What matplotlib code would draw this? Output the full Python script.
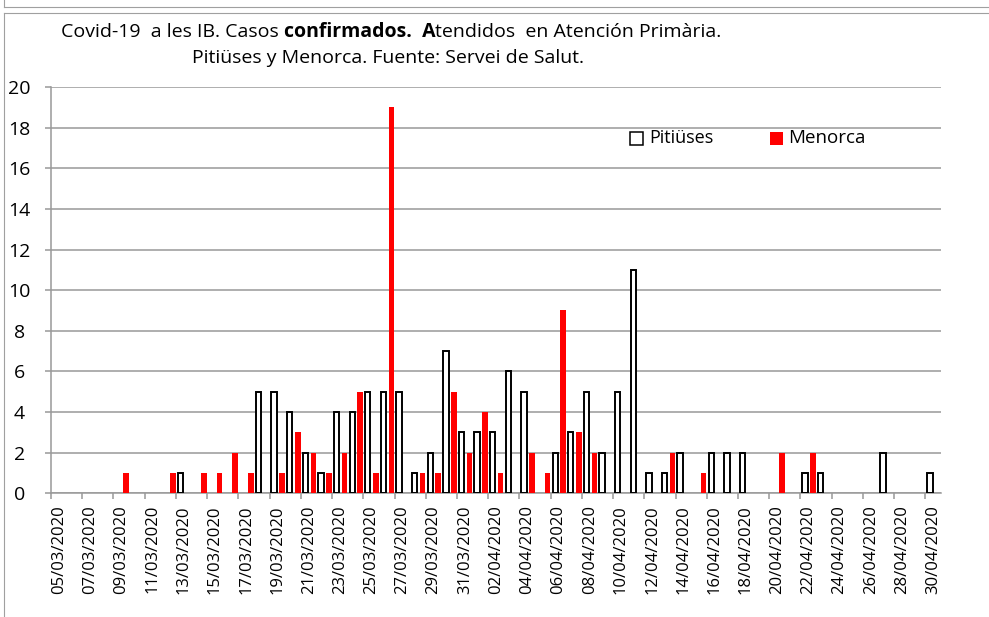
import matplotlib
matplotlib.use('Agg')
import matplotlib.pyplot as plt
from matplotlib.patches import Rectangle
from matplotlib.lines import Line2D
import numpy as np
import pandas as pd

plt.rcParams['font.family'] = ['Open Sans', 'DejaVu Sans']

# daily categories 05/03/2020 .. 30/04/2020
dates = list(pd.date_range('2020-03-05', '2020-04-30').strftime('%d/%m/%Y'))

pitiuses = [0, 0, 0, 0, 0, 0, 0, 0, 1, 0,
            0, 0, 0, 5, 5, 4, 2, 1, 4, 4,
            5, 5, 5, 1, 2, 7, 3, 3, 3, 6,
            5, 0, 2, 3, 5, 2, 5, 11, 1, 1,
            2, 0, 2, 2, 2, 0, 0, 0, 1, 1,
            0, 0, 0, 2, 0, 0, 1]
menorca = [0, 0, 0, 0, 1, 0, 0, 1, 0, 1,
           1, 2, 1, 0, 1, 3, 2, 1, 2, 5,
           1, 19, 0, 1, 1, 5, 2, 4, 1, 0,
           2, 1, 9, 3, 2, 0, 0, 0, 0, 2,
           0, 1, 0, 0, 0, 0, 2, 0, 2, 0,
           0, 0, 0, 0, 0, 0, 0]

title_1 = [("Covid-19  a les IB. Casos", 'normal', 1),
           ("confirmados.  A", 'bold', 0),
           ("tendidos  en Atención Primària.", 'normal', 0)]
title_2 = "Pitiüses y Menorca. Fuente: Servei de Salut."

W, H = 989, 617
GRID = '#999999'


def fx(x):
    return x / W


def fy(y):
    return 1 - y / H


fig = plt.figure(figsize=(W / 100, H / 100), dpi=100)

# outer frames
frame = dict(color='#a0a0a0', linewidth=0.8, transform=fig.transFigure)
fig.add_artist(Line2D([fx(4), 1], [fy(6.7), fy(6.7)], **frame))
fig.add_artist(Line2D([fx(4), fx(4)], [1, fy(6.7)], **frame))
fig.add_artist(Line2D([fx(4), 1], [fy(12.5), fy(12.5)], **frame))
fig.add_artist(Line2D([fx(4), fx(4)], [fy(12.5), 0], **frame))

ax = fig.add_axes([fx(51), fy(493.3), (941 - 51) / W, (493.3 - 87) / H])

x = np.arange(len(dates))
p = np.array(pitiuses)
m = np.array(menorca)
ax.bar(x[p > 0] + 0.29, p[p > 0], width=0.34, color='white',
       edgecolor='black', linewidth=1.4, zorder=3)
ax.bar(x[m > 0] + 0.80, m[m > 0], width=0.36, color='#ff0000',
       linewidth=0, zorder=3)

ax.set_xlim(0, len(dates))
ax.set_ylim(0, 20)
ax.set_yticks(range(0, 21, 2))
ax.yaxis.grid(True, color=GRID, linewidth=1.1)
ax.set_axisbelow(True)
for s in ['top', 'right']:
    ax.spines[s].set_visible(False)
for s in ['left', 'bottom']:
    ax.spines[s].set_color(GRID)
    ax.spines[s].set_linewidth(1.1)

ax.set_xticks(np.arange(0, len(dates), 2))
ax.set_xticklabels([])
ax.set_xticks(np.arange(0, len(dates), 2) + 0.5, minor=True)
ax.set_xticklabels(dates[::2], minor=True, rotation=90, fontsize=12)
ax.tick_params(axis='x', which='major', length=4.3, color=GRID, width=1.1)
ax.tick_params(axis='x', which='minor', length=0, pad=8.5)
ax.tick_params(axis='y', length=4.3, color=GRID, width=1.1, pad=18.4, labelsize=14)
plt.setp(ax.get_yticklabels(), ha='center')

# title, with bold pieces
renderer = fig.canvas.get_renderer()


def text_w(s, **kw):
    t = fig.text(0, 0, s, **kw)
    w = t.get_window_extent(renderer).width
    t.remove()
    return w


size = 14
space = text_w("a a", fontsize=size) - text_w("aa", fontsize=size)
pieces = []
for s, weight, gap in title_1:
    t = fig.text(0, fy(36.7), s, fontsize=size, fontweight=weight, va='baseline')
    pieces.append((t, t.get_window_extent(renderer).width + gap * space))
total = sum(w for _, w in pieces)
cur = 391 - total / 2
for t, w in pieces:
    t.set_x(fx(cur))
    cur += w
fig.text(fx(388), fy(63), title_2, fontsize=size, ha='center', va='baseline')

# legend
fig.add_artist(Rectangle((fx(630), fy(144.5)), 12.5 / W, 12.5 / H, facecolor='white',
                         edgecolor='black', linewidth=1.1, transform=fig.transFigure))
fig.text(fx(649), fy(138), "Pitiüses", fontsize=13, va='center')
fig.add_artist(Rectangle((fx(770), fy(144.5)), 12.5 / W, 12.5 / H, facecolor='#ff0000',
                         linewidth=0, transform=fig.transFigure))
fig.text(fx(788), fy(138), "Menorca", fontsize=13.5, va='center')

fig.savefig('out.png', dpi=100)
